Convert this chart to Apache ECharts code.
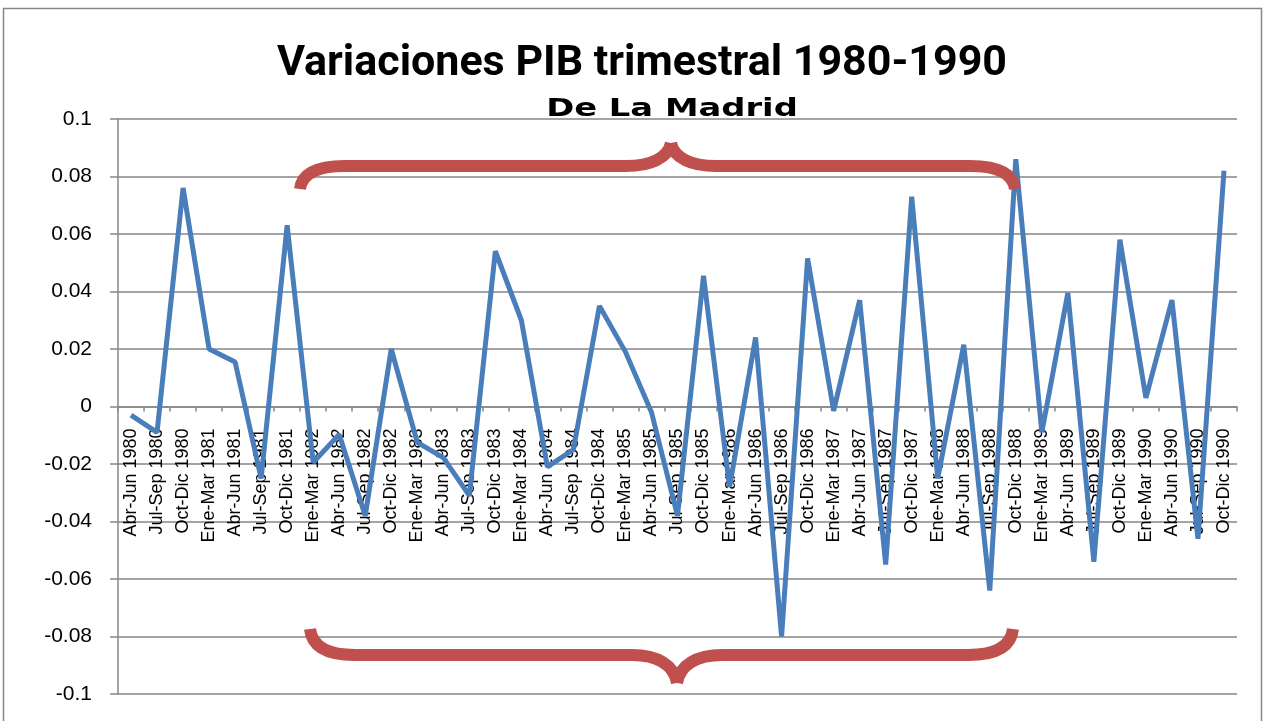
<!DOCTYPE html>
<html>
<head>
<meta charset="utf-8">
<script src="https://cdn.jsdelivr.net/npm/echarts@6/dist/echarts.min.js"></script>
<style>
  html, body { margin: 0; padding: 0; background: #fff; }
  #chart { width: 1266px; height: 721px; }
</style>
</head>
<body>
<div id="chart"></div>
<script>
// trimestres
var quarters = [
  'Abr-Jun 1980', 'Jul-Sep 1980', 'Oct-Dic 1980',
  'Ene-Mar 1981', 'Abr-Jun 1981', 'Jul-Sep 1981', 'Oct-Dic 1981',
  'Ene-Mar 1982', 'Abr-Jun 1982', 'Jul-Sep 1982', 'Oct-Dic 1982',
  'Ene-Mar 1983', 'Abr-Jun 1983', 'Jul-Sep 1983', 'Oct-Dic 1983',
  'Ene-Mar 1984', 'Abr-Jun 1984', 'Jul-Sep 1984', 'Oct-Dic 1984',
  'Ene-Mar 1985', 'Abr-Jun 1985', 'Jul-Sep 1985', 'Oct-Dic 1985',
  'Ene-Mar 1986', 'Abr-Jun 1986', 'Jul-Sep 1986', 'Oct-Dic 1986',
  'Ene-Mar 1987', 'Abr-Jun 1987', 'Jul-Sep 1987', 'Oct-Dic 1987',
  'Ene-Mar 1988', 'Abr-Jun 1988', 'Jul-Sep 1988', 'Oct-Dic 1988',
  'Ene-Mar 1989', 'Abr-Jun 1989', 'Jul-Sep 1989', 'Oct-Dic 1989',
  'Ene-Mar 1990', 'Abr-Jun 1990', 'Jul-Sep 1990', 'Oct-Dic 1990'
];

// variacion del PIB
var pibVar = [
  -0.003, -0.009, 0.076,
  0.020, 0.0155, -0.025, 0.063,
  -0.0195, -0.0097, -0.038, 0.020,
  -0.0125, -0.0178, -0.031, 0.054,
  0.030, -0.021, -0.015, 0.035,
  0.019, -0.002, -0.038, 0.0455,
  -0.028, 0.024, -0.080, 0.0515,
  -0.0015, 0.037, -0.055, 0.073,
  -0.025, 0.0215, -0.064, 0.086,
  -0.009, 0.0395, -0.054, 0.058,
  0.003, 0.037, -0.046, 0.082
];

var chart = echarts.init(document.getElementById('chart'));

var gridTop = 119, gridBottom = 27;
var plotH = 721 - gridTop - gridBottom;

var braceStyle = { stroke: '#c0504d', lineWidth: 12, fill: null };

// llave: extremos x0/x1, barra en yBar, extremos en yEnd, punta en (xm, yTip)
function brace(x0, x1, xm, yEnd, yBar, yTip) {
  var d = yBar - yEnd;
  var t = yTip - yBar;
  var r = 45;
  var els = [];
  function curve(a, b, c1, c2) {
    els.push({ type: 'bezierCurve', silent: true, z: 10,
      shape: { x1: a[0], y1: a[1], x2: b[0], y2: b[1], cpx1: c1[0], cpy1: c1[1], cpx2: c2[0], cpy2: c2[1] },
      style: braceStyle });
  }
  function seg(a, b) {
    els.push({ type: 'line', silent: true, z: 10,
      shape: { x1: a[0], y1: a[1], x2: b[0], y2: b[1] }, style: braceStyle });
  }
  curve([x0, yEnd], [x0 + r, yBar], [x0 + 2, yEnd + d * 0.68], [x0 + 18, yBar]);
  seg([x0 + r - 0.5, yBar], [xm - r + 0.5, yBar]);
  curve([xm - r, yBar], [xm, yTip], [xm - 20, yBar], [xm - 3, yBar + t * 0.35]);
  curve([xm, yTip], [xm + r, yBar], [xm + 3, yBar + t * 0.35], [xm + 20, yBar]);
  seg([xm + r - 0.5, yBar], [x1 - r + 0.5, yBar]);
  curve([x1 - r, yBar], [x1, yEnd], [x1 - 18, yBar], [x1 - 2, yEnd + d * 0.68]);
  return els;
}

var graphics = [
  // marco
  { type: 'rect', silent: true, shape: { x: 3.5, y: 8.5, width: 1258, height: 720 },
    style: { fill: null, stroke: '#868686', lineWidth: 1.5 } },
  // subtitulo
  { type: 'text', silent: true, x: 672, y: 97, scaleX: 1.35, z: 5,
    style: { text: 'De La Madrid', textAlign: 'center', textVerticalAlign: 'top',
      font: 'bold 25px "DejaVu Sans", sans-serif', fill: '#000' } }
].concat(brace(300, 1015, 671, 189, 166, 143))
 .concat(brace(310, 1013, 677, 629, 655, 683));

chart.setOption({
  animation: false,
  title: {
    text: 'Variaciones PIB trimestral 1980-1990',
    left: 637, top: 38, textAlign: 'center',
    textStyle: { fontFamily: 'Roboto, sans-serif', fontWeight: 'bold', fontSize: 43, color: '#000' }
  },
  grid: { left: 118, right: 29, top: gridTop, bottom: gridBottom, containLabel: false, outerBoundsMode: 'none' },
  xAxis: {
    type: 'category',
    data: quarters,
    boundaryGap: true,
    position: 'bottom',
    // el eje cruza en 0 (centro del rango -0.1..0.1)
    offset: -plotH / 2,
    axisLine: { onZero: false, lineStyle: { color: '#868686', width: 1.5 } },
    axisTick: { show: true, length: 5, lineStyle: { color: '#868686', width: 1.5 } },
    axisLabel: {
      interval: 0, rotate: 90, margin: 22, hideOverlap: false,
      fontFamily: 'Liberation Sans, Arial, sans-serif', fontSize: 18, color: '#000'
    }
  },
  yAxis: {
    type: 'value',
    min: -0.1, max: 0.1, interval: 0.02,
    axisLine: { show: true, lineStyle: { color: '#868686', width: 1.5 } },
    axisTick: { show: true, length: 8, lineStyle: { color: '#868686', width: 1.5 } },
    splitLine: { lineStyle: { color: '#868686', width: 1.5 } },
    axisLabel: {
      margin: 26,
      fontFamily: 'Liberation Sans, Arial, sans-serif', fontSize: 21, color: '#000',
      formatter: function (v) { return String(parseFloat(v.toFixed(2))); }
    }
  },
  series: [{
    type: 'line',
    data: pibVar,
    showSymbol: false,
    lineStyle: { color: '#4a7ebb', width: 5 },
    z: 3
  }],
  graphic: graphics
});
</script>
</body>
</html>
